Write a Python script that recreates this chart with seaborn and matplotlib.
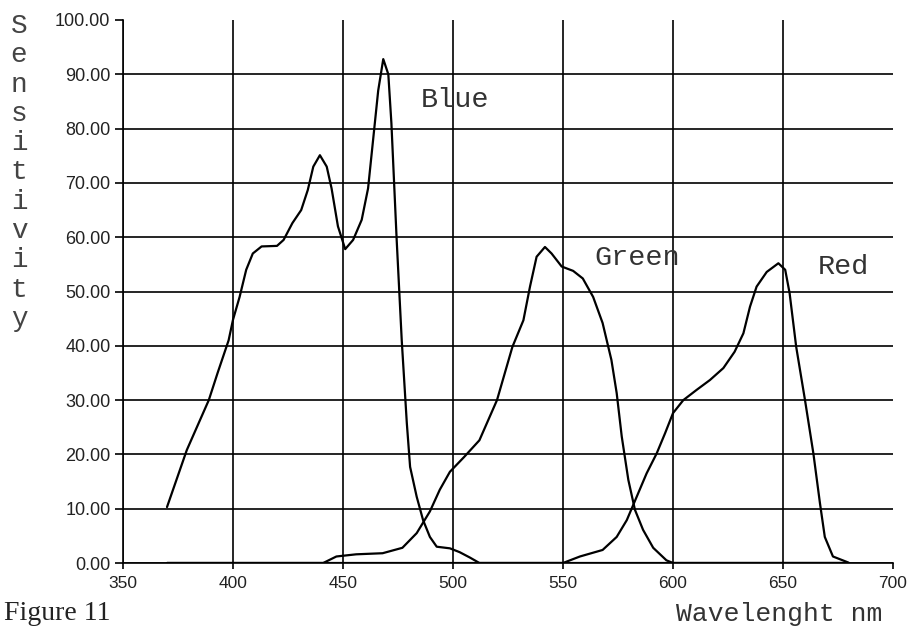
import numpy as np
import pandas as pd
import matplotlib
matplotlib.use("Agg")
import matplotlib.pyplot as plt
import seaborn as sns
from matplotlib.ticker import FormatStrFormatter

# ---- data ----
blue_x = [370, 379, 389, 393, 398, 400, 403, 406, 409, 413, 420, 423, 427, 431, 434, 436.5,
          439.5, 442.6, 444.8, 447.7, 451, 454.6, 458.5, 461.4, 463.7, 466, 468.3, 470.6,
          472, 474.4, 476.7, 479, 480.5, 483.5, 486.4, 489.5, 492.6, 498.6, 503, 507.7, 512, 680]
blue_y = [10.3, 20.8, 30, 35, 41, 44.8, 49, 54, 57, 58.3, 58.4, 59.5, 62.6, 65, 68.7, 73,
          75.1, 73, 69, 62, 57.8, 59.5, 63.2, 69, 78, 87, 92.8, 90,
          81, 59.5, 41, 25.8, 17.7, 12.2, 7.9, 4.8, 3, 2.7, 2, 1.0, 0, 0]

green_x = [370, 441, 447, 456, 468, 477, 483.5, 489.5, 494, 498.6, 505, 512, 520, 527, 532,
           535, 538, 541.8, 544.8, 549.4, 554.6, 559, 563.7, 568, 572, 574.4, 576.7, 579.7,
           582.7, 586.4, 591, 597, 600, 680]
green_y = [0, 0, 1.2, 1.6, 1.8, 2.8, 5.5, 9.5, 13.5, 16.8, 19.5, 22.6, 30, 39.8, 44.7,
           50.9, 56.4, 58.2, 57, 54.6, 53.8, 52.4, 49, 44.2, 37.4, 31.3, 23.3, 15.3,
           9.8, 6.1, 2.8, 0.5, 0, 0]

red_x = [370, 550, 557.7, 568, 574.4, 579, 583.5, 588, 592.6, 596.4, 600, 604.7, 610.8,
         616.8, 622.9, 628, 632, 635, 638, 642.6, 647.9, 651, 653, 656, 660, 663.8, 666.8,
         669, 672.7, 679, 680]
red_y = [0, 0, 1.2, 2.4, 4.8, 7.9, 12.2, 16.5, 20.2, 23.9, 27.6, 30, 31.9,
         33.7, 35.9, 38.9, 42.3, 47.2, 50.9, 53.6, 55.2, 54, 49.7, 39.8, 30, 20.2, 11,
         4.8, 1.2, 0.2, 0]

series_names = ["Blue", "Green", "Red"]
label_pos_x = [501, 583.5, 677.5]
label_pos_y = [85.3, 56.2, 54.5]

x_ticks = [350, 400, 450, 500, 550, 600, 650, 700]
y_ticks = [0, 10, 20, 30, 40, 50, 60, 70, 80, 90, 100]

df = pd.concat([
    pd.DataFrame({"Wavelength": blue_x, "Sensitivity": blue_y, "Series": "Blue"}),
    pd.DataFrame({"Wavelength": green_x, "Sensitivity": green_y, "Series": "Green"}),
    pd.DataFrame({"Wavelength": red_x, "Sensitivity": red_y, "Series": "Red"}),
], ignore_index=True)

sns.set_theme(style="white")
plt.rcParams["font.family"] = ["Liberation Sans", "DejaVu Sans"]

fig = plt.figure(figsize=(9.09, 6.27), dpi=100)
ax = fig.add_axes([123 / 909, 1 - 563 / 627, (893 - 123) / 909, (563 - 20) / 627])

sns.lineplot(data=df, x="Wavelength", y="Sensitivity", units="Series", estimator=None,
             color="black", linewidth=1.6, sort=False, ax=ax, legend=False)

ax.set_xlim(350, 700)
ax.set_ylim(0, 100)
ax.set_xticks(x_ticks)
ax.set_yticks(y_ticks)
ax.yaxis.set_major_formatter(FormatStrFormatter("%.2f"))
ax.grid(True, color="black", linewidth=1.2)
ax.set_axisbelow(True)
# no grid line on the top value / last x value
ax.yaxis.get_gridlines()[-1].set_visible(False)
ax.xaxis.get_gridlines()[-1].set_visible(False)

for s in ["top", "right"]:
    ax.spines[s].set_visible(False)
for s in ["left", "bottom"]:
    ax.spines[s].set_color("black")
    ax.spines[s].set_linewidth(1.2)

ax.tick_params(axis="y", which="major", direction="out", length=6, width=1.2,
               color="black", labelsize=13, labelcolor="#222222", pad=3, left=True)
ax.tick_params(axis="x", which="major", direction="out", length=4.5, width=1.2,
               color="black", labelsize=12.5, labelcolor="#222222", pad=5, bottom=True)
ax.set_xlabel("")
ax.set_ylabel("")

mono = ["Liberation Mono", "DejaVu Sans Mono"]
for name, tx, ty in zip(series_names, label_pos_x, label_pos_y):
    ax.text(tx, ty, name, family=mono, fontsize=20.5, color="#333333",
            ha="center", va="center")

for k, ch in enumerate("Sensitivity"):
    fig.text(19 / 909, 1 - (33 + 29.3 * k) / 627, ch, family=mono, fontsize=20,
             color="#444444", ha="center", va="baseline")

fig.text(676 / 909, 1 - 621 / 627, "Wavelenght nm", family=mono, fontsize=19,
         color="#333333", ha="left", va="baseline")
fig.text(4 / 909, 1 - 620 / 627, "Figure 11", family=["Liberation Serif", "DejaVu Serif"],
         fontsize=20, color="#222222", ha="left", va="baseline")

fig.savefig("out.png", dpi=100)
